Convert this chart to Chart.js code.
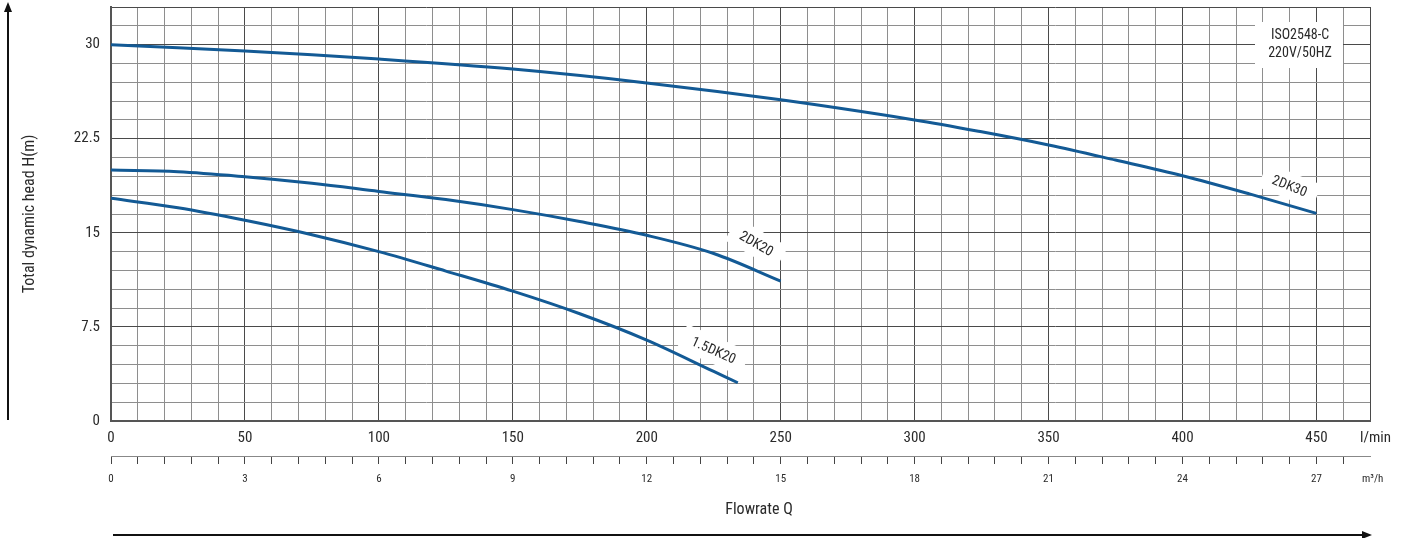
<!DOCTYPE html>
<html>
<head>
<meta charset="utf-8">
<script src="https://cdn.jsdelivr.net/npm/chart.js@4/dist/chart.umd.min.js"></script>
<style>
  html, body { margin: 0; padding: 0; background: #fff; }
</style>
</head>
<body>
<canvas id="pumpChart" width="1410" height="538"></canvas>
<script>
// --- data (flow in l/min, head in m) ---
const flow2DK30 = [0, 50, 100, 150, 200, 250, 300, 325, 350, 375, 400, 425, 450];
const head2DK30 = [30, 29.5, 28.85, 28.05, 26.95, 25.6, 24.0, 23.05, 22.0, 20.8, 19.55, 18.1, 16.55];

const flow2DK20 = [0, 25, 50, 75, 100, 125, 150, 175, 200, 225, 250];
const head2DK20 = [20, 19.87, 19.47, 18.95, 18.3, 17.65, 16.85, 15.9, 14.8, 13.35, 11.15];

const flow15DK20 = [0, 25, 50, 75, 100, 125, 150, 175, 200, 225, 234];
const head15DK20 = [17.75, 17.0, 16.0, 14.85, 13.5, 11.95, 10.35, 8.55, 6.45, 3.95, 3.05];

const seriesNames = ['2DK30', '2DK20', '1.5DK20'];
const headTicks = [0, 7.5, 15, 22.5, 30];
const noteLines = ['ISO2548-C', '220V/50HZ'];

const FONT = "'Liberation Sans Narrow', 'Roboto Condensed', 'DejaVu Sans Condensed', 'Liberation Sans', sans-serif";
const BLUE = '#135a95';
const TEXT = '#2a2a2a';

function pts(xs, ys) {
    return xs.map((x, i) => ({ x: x, y: ys[i] }));
}

function isMult(v, step) {
    return Math.abs(v / step - Math.round(v / step)) < 1e-6;
}

// curve labels, anchored in data coordinates
const curveLabels = [
    { text: seriesNames[0], x: 440, y: 18.75, angle: 22 },
    { text: seriesNames[1], x: 241, y: 14.15, angle: 30 },
    { text: seriesNames[2], x: 225, y: 5.65, angle: 24 }
];

const decorations = {
    id: 'decorations',
    beforeDatasetsDraw(chart) {
        const { ctx, scales: { x, y } } = chart;
        ctx.save();
        ctx.font = '14px ' + FONT;
        ctx.textAlign = 'center';
        ctx.textBaseline = 'middle';

        // white patches with the curve names
        curveLabels.forEach(l => {
            const px = x.getPixelForValue(l.x);
            const py = y.getPixelForValue(l.y);
            ctx.save();
            ctx.translate(px, py);
            ctx.rotate(l.angle * Math.PI / 180);
            const w = ctx.measureText(l.text).width + 22;
            ctx.fillStyle = '#fff';
            ctx.fillRect(-w / 2, -13, w, 26);
            ctx.fillStyle = TEXT;
            ctx.fillText(l.text, 0, 1);
            ctx.restore();
        });

        // note box top right
        ctx.fillStyle = '#fff';
        ctx.fillRect(1255, 22, 88, 46);
        ctx.fillStyle = TEXT;
        ctx.fillText(noteLines[0], 1300, 35);
        ctx.fillText(noteLines[1], 1300, 53);
        ctx.restore();
    },
    afterDraw(chart) {
        const { ctx } = chart;
        ctx.save();
        ctx.fillStyle = TEXT;
        ctx.strokeStyle = '#111';
        ctx.textBaseline = 'middle';

        // unit labels at the end of both flow axes
        ctx.textAlign = 'left';
        ctx.font = '15px ' + FONT;
        ctx.fillText('l/min', 1360, 438);
        ctx.font = '11px ' + FONT;
        ctx.fillText('m³/h', 1362, 479);

        // axis title below
        ctx.textAlign = 'center';
        ctx.font = '16px ' + FONT;
        ctx.fillText('Flowrate Q', 759, 510);

        // arrows
        ctx.lineWidth = 2;
        ctx.beginPath();
        ctx.moveTo(8, 420);
        ctx.lineTo(8, 10);
        ctx.moveTo(113, 535);
        ctx.lineTo(1364, 535);
        ctx.stroke();
        ctx.fillStyle = '#111';
        ctx.beginPath();
        ctx.moveTo(8, 2);
        ctx.lineTo(4, 12);
        ctx.lineTo(12, 12);
        ctx.closePath();
        ctx.fill();
        ctx.beginPath();
        ctx.moveTo(1372, 535);
        ctx.lineTo(1362, 531);
        ctx.lineTo(1362, 539);
        ctx.closePath();
        ctx.fill();
        ctx.restore();
    }
};

const lineStyle = {
    borderColor: BLUE,
    borderWidth: 3,
    pointRadius: 0,
    showLine: true,
    fill: false,
    tension: 0.35
};

new Chart(document.getElementById('pumpChart'), {
    type: 'scatter',
    data: {
        datasets: [
            { label: seriesNames[0], data: pts(flow2DK30, head2DK30), ...lineStyle },
            { label: seriesNames[1], data: pts(flow2DK20, head2DK20), ...lineStyle },
            { label: seriesNames[2], data: pts(flow15DK20, head15DK20), ...lineStyle }
        ]
    },
    options: {
        responsive: false,
        animation: false,
        layout: { padding: { top: 7, right: 40, left: 0, bottom: 0 } },
        plugins: {
            legend: { display: false },
            tooltip: { enabled: false }
        },
        scales: {
            x: {
                type: 'linear',
                position: 'bottom',
                min: 0,
                max: 470,
                afterFit: s => { s.height = 35; s.paddingLeft = 0; s.paddingRight = 0; },
                ticks: {
                    stepSize: 10,
                    autoSkip: false,
                    maxRotation: 0,
                    padding: 8,
                    color: TEXT,
                    font: { family: FONT, size: 15 },
                    callback: v => (isMult(v, 50) && v <= 450 ? String(v) : '')
                },
                grid: {
                    drawTicks: false,
                    lineWidth: 1,
                    color: c => (isMult(c.tick.value, 50) || c.tick.value === 470 ? '#4a4a4a' : '#8e8e8e')
                },
                border: { color: '#555', width: 2 }
            },
            x2: {
                type: 'linear',
                position: 'bottom',
                min: 0,
                max: 28.2,
                afterFit: s => { s.height = 82; s.paddingLeft = 0; s.paddingRight = 0; },
                ticks: {
                    stepSize: 0.6,
                    autoSkip: false,
                    maxRotation: 0,
                    padding: 9,
                    color: TEXT,
                    font: { family: FONT, size: 11 },
                    callback: v => (isMult(v, 3) ? String(Math.round(v)) : '')
                },
                grid: {
                    drawOnChartArea: false,
                    drawTicks: true,
                    tickLength: 8,
                    color: c => (c.tick && c.tick.value > 27.7 ? 'rgba(0,0,0,0)' : '#444')
                },
                border: { color: '#888', width: 1 }
            },
            y: {
                type: 'linear',
                min: 0,
                max: 33,
                afterFit: s => { s.width = 111; s.paddingTop = 0; s.paddingBottom = 0; },
                ticks: {
                    stepSize: 1.5,
                    autoSkip: false,
                    padding: 11,
                    color: TEXT,
                    font: { family: FONT, size: 15 },
                    callback: v => (headTicks.some(t => Math.abs(t - v) < 1e-6) ? String(v) : '')
                },
                grid: {
                    drawTicks: false,
                    lineWidth: 1,
                    color: c => (isMult(c.tick.value, 7.5) || c.tick.value === 33 ? '#4a4a4a' : '#8e8e8e')
                },
                border: { color: '#555', width: 2 },
                title: {
                    display: true,
                    text: 'Total dynamic head H(m)',
                    color: TEXT,
                    font: { family: FONT, size: 16 },
                    padding: { top: 20, bottom: 0 }
                }
            }
        }
    },
    plugins: [decorations]
});
</script>
</body>
</html>
